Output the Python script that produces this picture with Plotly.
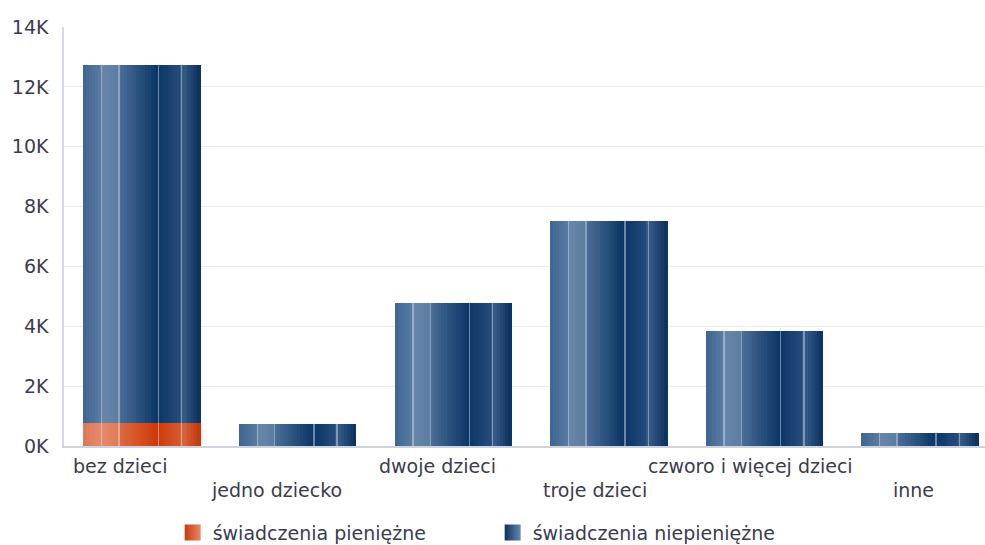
import plotly.graph_objects as go

# ---- data ----
categories = ["bez dzieci", "jedno dziecko", "dwoje dzieci", "troje dzieci",
              "czworo i więcej dzieci", "inne"]
pieniezne = [770, 0, 0, 0, 0, 0]
niepieniezne = [11960, 740, 4780, 7520, 3840, 430]
series_names = ["świadczenia pieniężne", "świadczenia niepieniężne"]
y_tickvals = [0, 2000, 4000, 6000, 8000, 10000, 12000, 14000]
y_ticktext = ["0K", "2K", "4K", "6K", "8K", "10K", "12K", "14K"]

# ---- styling ----
FONT = "DejaVu Sans"
TEXT = "#3b3b4f"
BAR_W = 0.75
N_SLICES = 40

def hex2rgb(h):
    h = h.lstrip("#")
    return tuple(int(h[i:i + 2], 16) for i in (0, 2, 4))

def interp(stops, t):
    for (t0, c0), (t1, c1) in zip(stops, stops[1:]):
        if t0 <= t <= t1:
            f = 0 if t1 == t0 else (t - t0) / (t1 - t0)
            a, b = hex2rgb(c0), hex2rgb(c1)
            return "rgb(%d,%d,%d)" % tuple(round(a[i] + (b[i] - a[i]) * f) for i in range(3))
    return stops[-1][1]

blue_stops = [(0.0, "#3d6590"), (0.15, "#5a7ca2"), (0.16, "#6886aa"), (0.30, "#5c7da2"),
              (0.31, "#4a6e97"), (0.63, "#0b3666"), (0.64, "#0b3666"), (0.83, "#264c7c"),
              (0.84, "#3a5f89"), (1.0, "#0b2f5e")]
orange_stops = [(0.0, "#df7856"), (0.15, "#e48a6c"), (0.16, "#e48a6c"), (0.30, "#e07a58"),
                (0.31, "#dd6a42"), (0.63, "#cf3a08"), (0.64, "#cf3a08"), (0.83, "#d65a30"),
                (0.84, "#d86a44"), (1.0, "#c2380a")]
lines_t = [0.15, 0.30, 0.635, 0.835]
line_col = {"blue": "rgba(190,205,225,0.55)", "orange": "rgba(250,215,200,0.55)"}

fig = go.Figure()

def add_series(values, base, stops, key, name, legend_colors):
    sw = BAR_W / N_SLICES
    for k in range(N_SLICES):
        t = (k + 0.5) / N_SLICES
        fig.add_trace(go.Bar(
            x=categories, y=values, base=base,
            width=sw * 1.25, offset=-BAR_W / 2 + k * sw,
            marker=dict(color=interp(stops, t), line=dict(width=0)),
            showlegend=False, hoverinfo="skip"))
    for t in lines_t:
        fig.add_trace(go.Bar(
            x=categories, y=values, base=base,
            width=0.009, offset=-BAR_W / 2 + t * BAR_W,
            marker=dict(color=line_col[key], line=dict(width=0)),
            showlegend=False, hoverinfo="skip"))
    fig.add_trace(go.Scatter(
        x=[None], y=[None], name=name, mode="markers",
        marker=dict(symbol="square", size=18, color=legend_colors[0],
                    gradient=dict(type="horizontal", color=legend_colors[1]),
                    line=dict(width=0))))

add_series(pieniezne, [0] * len(categories), orange_stops, "orange", series_names[0],
           ("#c83a08", "#e48a6c"))
add_series(niepieniezne, pieniezne, blue_stops, "blue", series_names[1],
           ("#0c3060", "#6a89ad"))

# category labels (staggered)
xshifts = [-21.5, -21, -15, -13.5, -13.5, -6.5]
for i, c in enumerate(categories):
    fig.add_annotation(x=c, y=0, xref="x", yref="y", text=c, showarrow=False,
                       xshift=xshifts[i], yshift=-20 if i % 2 == 0 else -44,
                       yanchor="middle", font=dict(family=FONT, size=19, color=TEXT))

fig.update_layout(
    width=985, height=545,
    margin=dict(l=64, r=0, t=27, b=99, autoexpand=False),
    barmode="overlay", bargap=0,
    plot_bgcolor="white", paper_bgcolor="white",
    font=dict(family=FONT, size=19, color=TEXT),
    legend=dict(orientation="h", x=0.118, xanchor="left", y=-0.207, yanchor="middle",
                font=dict(family=FONT, size=19, color=TEXT), entrywidth=275,
                itemwidth=30),
    xaxis=dict(type="category", range=[-0.5, 5.42], showticklabels=False,
               showline=True, linecolor="#cfd2df", linewidth=1.5, ticks="",
               showgrid=False, zeroline=False, fixedrange=True, automargin=False),
    yaxis=dict(range=[0, 14000], tickvals=y_tickvals, ticktext=y_ticktext,
               showline=True, linecolor="#d6d8e4", linewidth=1.5,
               gridcolor="#ececf1", gridwidth=1, zeroline=False, automargin=False,
               tickfont=dict(family=FONT, size=19, color=TEXT), ticklabelstandoff=10),
)

fig.write_html("out.html", config={"displayModeBar": False},
               post_script="document.body.style.margin='0';document.body.style.overflow='hidden';")
